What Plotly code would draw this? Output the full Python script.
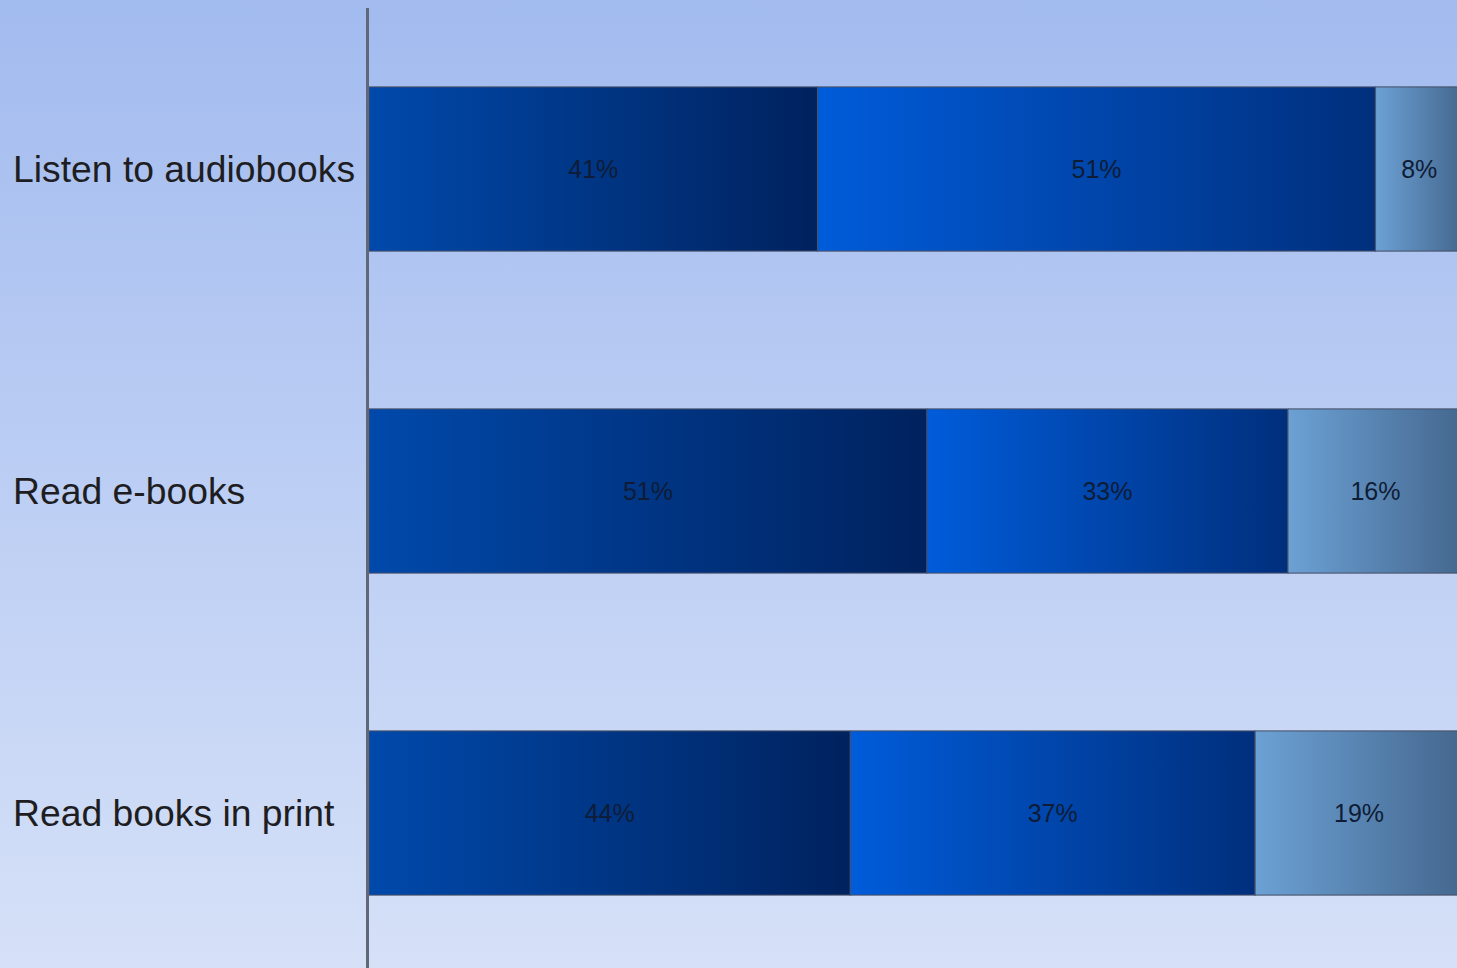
import base64
import plotly.graph_objects as go

categories = ["Listen to audiobooks", "Read e-books", "Read books in print"]
series_names = ["Series A", "Series B", "Series C"]
values_a = [41, 51, 44]
values_b = [51, 33, 37]
values_c = [8, 16, 19]
series_values = [values_a, values_b, values_c]

# gradient colours (left -> right) for each series
grad = [
    ("#0049ab", "#00225e"),
    ("#005cda", "#002f7c"),
    ("#6ca1d5", "#44678e"),
]

W, H = 1457, 968
ML, MR, MT, MB = 369, 0, 8, 0
PW, PH = W - ML - MR, H - MT - MB
BAR_HALF = 0.255

fig = go.Figure()

ypos = list(range(len(categories)))
base = [0] * len(categories)
for s, vals in enumerate(series_values):
    c0, c1 = grad[s]
    for i, v in enumerate(vals):
        x0, x1 = base[i], base[i] + v
        y0, y1 = ypos[i] - BAR_HALF, ypos[i] + BAR_HALF
        fig.add_trace(go.Scatter(
            x=[x0, x1, x1, x0, x0], y=[y0, y0, y1, y1, y0],
            mode="lines", fill="toself",
            line=dict(color="rgba(70,80,105,0.85)", width=1.2),
            fillgradient=dict(type="horizontal",
                              colorscale=[[0, c0], [1, c1]]),
            hoverinfo="skip", showlegend=False, name=series_names[s],
        ))
    fig.add_trace(go.Scatter(
        x=[base[i] + v / 2 for i, v in enumerate(vals)],
        y=[p + 0.01 for p in ypos],
        mode="text", text=[f"{v}%" for v in vals],
        textfont=dict(family="Liberation Sans, Arial", size=25, color="#0f1c36"),
        hoverinfo="skip", showlegend=False,
    ))
    base = [b + v for b, v in zip(base, vals)]

for i, cat in enumerate(categories):
    fig.add_annotation(
        text=cat, xref="paper", yref="y", x=-(ML - 11) / PW, y=ypos[i],
        xanchor="left", yanchor="middle", showarrow=False,
        font=dict(family="Liberation Sans, Arial", size=37.3, color="#1e1e22"),
    )

svg = f'''<svg xmlns="http://www.w3.org/2000/svg" width="{W}" height="{H}" preserveAspectRatio="none">
<defs><linearGradient id="g" x1="0" y1="0" x2="0" y2="1">
<stop offset="0" stop-color="#a2bbef"/><stop offset="1" stop-color="#d6e1f8"/>
</linearGradient></defs><rect x="0" y="0" width="{W}" height="{H}" fill="url(#g)"/></svg>'''
src = "data:image/svg+xml;base64," + base64.b64encode(svg.encode()).decode()

fig.add_layout_image(
    source=src, xref="paper", yref="paper",
    x=-ML / PW, y=1 + MT / PH, sizex=W / PW, sizey=H / PH,
    xanchor="left", yanchor="top", sizing="stretch", layer="below",
)

px_per_pct = 10.94
fig.update_layout(
    width=W, height=H,
    margin=dict(l=ML, r=MR, t=MT, b=MB, pad=0),
    paper_bgcolor="#bccdf2", plot_bgcolor="rgba(0,0,0,0)",
    xaxis=dict(range=[0, PW / px_per_pct], visible=False, fixedrange=True),
    # category centre 0 sits 161px below plot top, 322px per category
    yaxis=dict(range=[(PH - 161) / 322.0, -0.5],
               showticklabels=False, showgrid=False, zeroline=False,
               showline=True, linewidth=3, linecolor="#5f6779",
               ticks="", fixedrange=True),
    showlegend=False,
)

fig.write_html(
    "out.html",
    config={"displayModeBar": False},
    post_script="document.body.style.margin='0';document.body.style.overflow='hidden';",
)
